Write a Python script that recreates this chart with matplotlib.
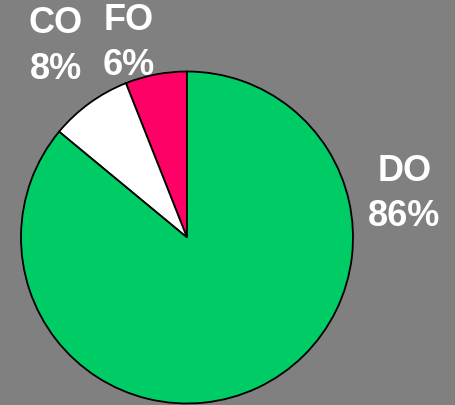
import matplotlib.pyplot as plt

labels = ["FO", "CO", "DO"]
shares = [6, 8, 86]
colors = ["#FF0066", "#FFFFFF", "#00CC66"]
# label anchor points around the pie (data units, radius = 1)
label_xy = [(-0.35, 1.17), (-0.79, 1.15), (1.31, 0.26)]

fig = plt.figure(figsize=(4.56, 4.05), dpi=100, facecolor="#808080")
ax = fig.add_axes([21 / 456, (405 - 237.5 - 166) / 405, 332 / 456, 332 / 405])
ax.set_facecolor("#808080")

ax.pie(shares, colors=colors, startangle=90, counterclock=True,
       wedgeprops=dict(edgecolor="black", linewidth=1.3))
ax.set_xlim(-1, 1)
ax.set_ylim(-1, 1)
ax.set_aspect("equal")
ax.axis("off")

for name, val, (x, y) in zip(labels, shares, label_xy):
    ax.text(x, y, f"{name}\n{val}%", ha="center", va="center",
            color="white", fontsize=26, fontweight="bold",
            family="Liberation Sans", linespacing=1.38)

fig.savefig("out.png", dpi=100, facecolor=fig.get_facecolor())
